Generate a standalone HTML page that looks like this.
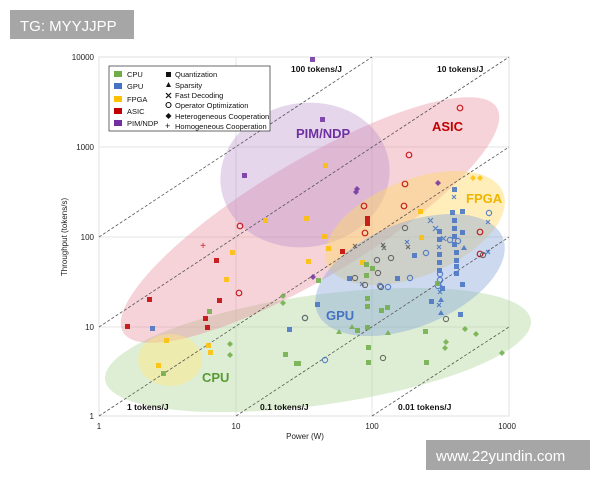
<!DOCTYPE html>
<html><head><meta charset="utf-8"><style>
html,body{margin:0;padding:0;background:#fff;}
svg{display:block;font-family:"Liberation Sans",Arial,sans-serif;}
</style></head><body>
<svg width="600" height="480" viewBox="0 0 600 480" xmlns="http://www.w3.org/2000/svg">
<rect width="600" height="480" fill="#fff"/>
<!-- plot frame & grid -->
<rect x="99" y="57" width="410" height="359" fill="#fff" stroke="#e2e2e2" stroke-width="1"/>
<g stroke="#e4e4e4" stroke-width="1">
<line x1="236" y1="57" x2="236" y2="416"/><line x1="372" y1="57" x2="372" y2="416"/>
<line x1="99" y1="147" x2="509" y2="147"/><line x1="99" y1="237" x2="509" y2="237"/><line x1="99" y1="327" x2="509" y2="327"/>
</g>
<!-- ellipses -->
<g>
<ellipse cx="318" cy="350" rx="215" ry="55" transform="rotate(-8 318 350)" fill="#a9d18e" opacity="0.38"/>
<ellipse cx="310" cy="220" rx="218" ry="58" transform="rotate(-31 310 220)" fill="#e88a9a" opacity="0.38"/>
<ellipse cx="305" cy="175" rx="85" ry="72" transform="rotate(-10 305 175)" fill="#b48ac8" opacity="0.35"/>
<ellipse cx="415" cy="228" rx="95" ry="48" transform="rotate(-22 415 228)" fill="#ffd966" opacity="0.45"/>
<ellipse cx="410" cy="275" rx="100" ry="52" transform="rotate(-22 410 275)" fill="#8eaadb" opacity="0.45"/>
<ellipse cx="170" cy="360" rx="32" ry="26" fill="#ffe680" opacity="0.45"/>
</g>
<!-- efficiency lines -->
<g stroke="#555" stroke-width="0.8" stroke-dasharray="3,2" fill="none">
<line x1="99" y1="416" x2="509" y2="147"/>
<line x1="236" y1="416" x2="509" y2="237"/>
<line x1="372" y1="416" x2="509" y2="327"/>
<line x1="99" y1="327" x2="509" y2="57"/>
<line x1="99" y1="237" x2="372" y2="57"/>
</g>
<!-- markers -->
<g opacity="0.85">
<!-- ASIC -->
<g fill="#c00000"><rect x="125" y="324" width="5" height="5"/><rect x="147" y="297" width="5" height="5"/><rect x="214" y="258" width="5" height="5"/><rect x="217" y="298" width="5" height="5"/><rect x="203" y="316" width="5" height="5"/><rect x="205" y="325" width="5" height="5"/><rect x="365" y="216" width="5" height="5"/><rect x="365" y="221" width="5" height="5"/><rect x="340" y="249" width="5" height="5"/></g>
<g fill="none" stroke="#c00000" stroke-width="1.2"><circle cx="240" cy="226" r="2.8"/><circle cx="239" cy="293" r="2.8"/><circle cx="409" cy="155" r="2.8"/><circle cx="364" cy="206" r="2.8"/><circle cx="404" cy="206" r="2.8"/><circle cx="365" cy="233" r="2.8"/><circle cx="460" cy="108" r="2.8"/><circle cx="405" cy="184" r="2.8"/><circle cx="480" cy="232" r="2.8"/><circle cx="480" cy="254" r="2.8"/></g>
<text x="203" y="249" font-size="10" fill="#c00000" text-anchor="middle">+</text>
<!-- PIM -->
<g fill="#7030a0"><rect x="310" y="57" width="5" height="5"/><rect x="242" y="173" width="5" height="5"/><rect x="320" y="117" width="5" height="5"/><path d="M357 186l3 3-3 3-3-3z"/><path d="M313 274l3 3-3 3-3-3z"/><path d="M438 180l3 3-3 3-3-3z"/><path d="M356 189l3 3-3 3-3-3z"/></g>
<!-- FPGA -->
<g fill="#ffc000"><rect x="323" y="163" width="5" height="5"/><rect x="304" y="216" width="5" height="5"/><rect x="322" y="234" width="5" height="5"/><rect x="419" y="235" width="5" height="5"/><rect x="224" y="277" width="5" height="5"/><rect x="156" y="363" width="5" height="5"/><rect x="164" y="338" width="5" height="5"/><rect x="306" y="259" width="5" height="5"/><rect x="418" y="209" width="5" height="5"/><rect x="263" y="218" width="5" height="5"/><rect x="326" y="246" width="5" height="5"/><rect x="360" y="260" width="5" height="5"/><rect x="230" y="250" width="5" height="5"/><rect x="206" y="343" width="5" height="5"/><rect x="208" y="350" width="5" height="5"/><path d="M473 175l3 3-3 3-3-3z"/><path d="M480 175l3 3-3 3-3-3z"/></g>
<!-- GPU -->
<g fill="#4472c4"><rect x="450" y="210" width="5" height="5"/><rect x="452" y="218" width="5" height="5"/><rect x="452" y="226" width="5" height="5"/><rect x="452" y="234" width="5" height="5"/><rect x="452" y="242" width="5" height="5"/><rect x="454" y="250" width="5" height="5"/><rect x="437" y="229" width="5" height="5"/><rect x="437" y="237" width="5" height="5"/><rect x="437" y="252" width="5" height="5"/><rect x="437" y="260" width="5" height="5"/><rect x="437" y="268" width="5" height="5"/><rect x="454" y="258" width="5" height="5"/><rect x="454" y="264" width="5" height="5"/><rect x="454" y="271" width="5" height="5"/><rect x="440" y="286" width="5" height="5"/><rect x="460" y="209" width="5" height="5"/><rect x="460" y="230" width="5" height="5"/><rect x="460" y="282" width="5" height="5"/><rect x="452" y="187" width="5" height="5"/><rect x="412" y="253" width="5" height="5"/><rect x="395" y="276" width="5" height="5"/><rect x="347" y="276" width="5" height="5"/><rect x="315" y="302" width="5" height="5"/><rect x="287" y="327" width="5" height="5"/><rect x="150" y="326" width="5" height="5"/><rect x="458" y="312" width="5" height="5"/><rect x="429" y="299" width="5" height="5"/><path d="M438 315l3 -5 3 5z"/><path d="M438 302l3 -5 3 5z"/><path d="M461 250l3 -5 3 5z"/></g>
<g stroke="#4472c4" stroke-width="1.2" fill="none"><path d="M428 218l5 5M433 218l-5 5M433 226l5 5M438 226l-5 5M441 236l5 5M446 236l-5 5M437 245l4 4M441 245l-4 4M438 282l4 4M442 282l-4 4M405 240l4 4M409 240l-4 4M360 282l4 4M364 282l-4 4M486 250l4 4M490 250l-4 4M486 220l4 4M490 220l-4 4M438 290l4 4M442 290l-4 4M452 195l4 4M456 195l-4 4M437 303l4 4M441 303l-4 4"/><circle cx="325" cy="360" r="2.6"/><circle cx="305" cy="318" r="2.6"/><circle cx="440" cy="274" r="2.6"/><circle cx="440" cy="280" r="2.6"/><circle cx="438" cy="286" r="2.6"/><circle cx="450" cy="240" r="2.6"/><circle cx="458" cy="241" r="2.6"/><circle cx="410" cy="278" r="2.6"/><circle cx="388" cy="287" r="2.6"/><circle cx="489" cy="213" r="2.6"/><circle cx="380" cy="286" r="2.6"/><circle cx="426" cy="253" r="2.6"/></g>
<g stroke="#555" stroke-width="1.1" fill="none"><path d="M381 243l4 4M385 243l-4 4M406 245l4 4M410 245l-4 4M382 246l4 4M386 246l-4 4M353 244l4 4M357 244l-4 4"/><circle cx="405" cy="228" r="2.6"/><circle cx="377" cy="260" r="2.6"/><circle cx="391" cy="258" r="2.6"/><circle cx="381" cy="287" r="2.6"/><circle cx="355" cy="278" r="2.6"/></g>
<!-- CPU -->
<g fill="#70ad47"><rect x="364" y="262" width="5" height="5"/><rect x="364" y="273" width="5" height="5"/><rect x="370" y="266" width="5" height="5"/><rect x="365" y="296" width="5" height="5"/><rect x="365" y="304" width="5" height="5"/><rect x="379" y="308" width="5" height="5"/><rect x="385" y="305" width="5" height="5"/><rect x="366" y="345" width="5" height="5"/><rect x="366" y="360" width="5" height="5"/><rect x="423" y="329" width="5" height="5"/><rect x="424" y="360" width="5" height="5"/><rect x="294" y="361" width="5" height="5"/><rect x="207" y="309" width="5" height="5"/><rect x="161" y="371" width="5" height="5"/><rect x="296" y="361" width="5" height="5"/><rect x="365" y="325" width="5" height="5"/><rect x="283" y="352" width="5" height="5"/><rect x="424" y="360" width="5" height="5"/><rect x="435" y="281" width="5" height="5"/><rect x="316" y="278" width="5" height="5"/><rect x="355" y="328" width="5" height="5"/><path d="M465 326l3 3-3 3-3-3z"/><path d="M476 331l3 3-3 3-3-3z"/><path d="M502 350l3 3-3 3-3-3z"/><path d="M446 339l3 3-3 3-3-3z"/><path d="M445 345l3 3-3 3-3-3z"/><path d="M230 341l3 3-3 3-3-3z"/><path d="M230 352l3 3-3 3-3-3z"/><path d="M283 293l3 3-3 3-3-3z"/><path d="M283 300l3 3-3 3-3-3z"/><path d="M349 329l3 -5 3 5z"/><path d="M336 334l3 -5 3 5z"/><path d="M385 335l3 -5 3 5z"/></g>
<g fill="none" stroke="#555" stroke-width="1.1"><circle cx="305" cy="318" r="2.6"/><circle cx="383" cy="358" r="2.6"/><circle cx="446" cy="319" r="2.6"/><circle cx="105" cy="318" r="0"/><circle cx="378" cy="273" r="2.6"/><circle cx="365" cy="285" r="2.6"/><circle cx="483" cy="255" r="2.6"/></g>
</g>
<!-- region labels -->
<g font-weight="bold" font-size="13">
<text x="432" y="131" fill="#c00000">ASIC</text>
<text x="296" y="138" fill="#7030a0">PIM/NDP</text>
<text x="466" y="203" fill="#f0b400">FPGA</text>
<text x="326" y="320" fill="#4472c4">GPU</text>
<text x="202" y="382" fill="#5a9a36">CPU</text>
</g>
<g font-weight="bold" font-size="8.5" fill="#111">
<text x="291" y="72">100 tokens/J</text>
<text x="437" y="72">10 tokens/J</text>
<text x="127" y="410">1 tokens/J</text>
<text x="260" y="410">0.1 tokens/J</text>
<text x="398" y="410">0.01 tokens/J</text>
</g>
<!-- legend -->
<rect x="109" y="66" width="161" height="65" fill="#fff" stroke="#444" stroke-width="0.8"/>
<g font-size="7.5" fill="#111">
<rect x="114" y="71" width="8" height="6" fill="#70ad47"/><text x="127" y="77">CPU</text>
<rect x="114" y="83" width="8" height="6" fill="#4472c4"/><text x="127" y="89">GPU</text>
<rect x="114" y="96" width="8" height="6" fill="#ffc000"/><text x="127" y="102">FPGA</text>
<rect x="114" y="108" width="8" height="6" fill="#c00000"/><text x="127" y="114">ASIC</text>
<rect x="114" y="120" width="8" height="6" fill="#7030a0"/><text x="127" y="126">PIM/NDP</text>
<rect x="166" y="72" width="5" height="5" fill="#111"/><text x="175" y="77">Quantization</text>
<path d="M166 87l2.5-5 2.5 5z" fill="#111"/><text x="175" y="88">Sparsity</text>
<path d="M166 93l5 5M171 93l-5 5" stroke="#111" stroke-width="1.2"/><text x="175" y="98">Fast Decoding</text>
<circle cx="168.5" cy="105" r="2.5" fill="none" stroke="#111" stroke-width="1.1"/><text x="175" y="108">Operator Optimization</text>
<path d="M168.5 113l3 3-3 3-3-3z" fill="#111"/><text x="175" y="119">Heterogeneous Cooperation</text>
<text x="165" y="129" font-size="9">+</text><text x="175" y="129">Homogeneous Cooperation</text>
</g>
<!-- axis labels -->
<g font-size="8" fill="#222">
<text x="94" y="60" text-anchor="end">10000</text>
<text x="94" y="150" text-anchor="end">1000</text>
<text x="94" y="240" text-anchor="end">100</text>
<text x="94" y="330" text-anchor="end">10</text>
<text x="94" y="419" text-anchor="end">1</text>
<text x="99" y="429" text-anchor="middle">1</text>
<text x="236" y="429" text-anchor="middle">10</text>
<text x="372" y="429" text-anchor="middle">100</text>
<text x="507" y="429" text-anchor="middle">1000</text>
<text x="305" y="439" text-anchor="middle">Power (W)</text>
<text transform="translate(67 237) rotate(-90)" text-anchor="middle">Throughput (tokens/s)</text>
</g>
<!-- watermarks -->
<rect x="10" y="10" width="124" height="29" fill="#a6a6a6"/>
<text x="20" y="31" font-size="15" fill="#fff">TG: MYYJJPP</text>
<rect x="426" y="440" width="164" height="30" fill="#a6a6a6"/>
<text x="436" y="461" font-size="15" fill="#fff">www.22yundin.com</text>
</svg>
</body></html>
